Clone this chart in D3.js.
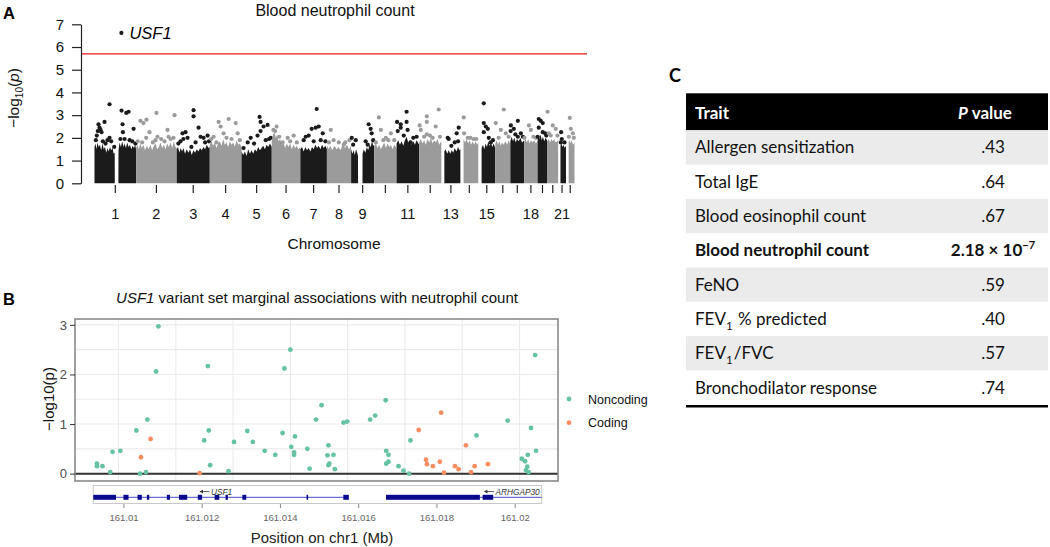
<!DOCTYPE html>
<html>
<head>
<meta charset="utf-8">
<script src="https://cdn.jsdelivr.net/npm/d3@7"></script>
<style>
  body { margin: 0; background: #fff; }
  svg { display: block; }
</style>
</head>
<body>
<svg id="fig" width="1050" height="547"></svg>
<script>
// ---------------- Panel A data (Manhattan plot) ----------------
const chrNames = ['1','2','3','4','5','6','7','8','9','10','11','12','13','14','15','16','17','18','19','20','21','22']
const chrShownLabels = ['1','2','3','4','5','6','7','8','9','11','13','15','18','21']
const chrLengths = [249, 243, 198, 190, 181, 171, 159, 145, 138, 134, 135, 133, 114, 107, 102, 90, 83, 80, 59, 64, 47, 51]
const yTicksA = [0, 1, 2, 3, 4, 5, 6, 7]
const sigThreshold = 5.7

// upper edge of the dense mass of SNPs, [Mb, -log10 p]
const massTop = [
  [[0,1.6],[6,1.75],[12,1.5],[18,1.8],[25,1.6],[32,1.7],[40,1.45],[48,1.75],[55,1.5],[63,1.6],[70,1.35],[78,1.55],[85,1.4],[93,1.6],[100,1.45],[108,1.55],[115,1.3],[121,1.35],[121.5,0],[143,0],[143.5,1.45],[150,1.8],[158,1.6],[166,1.85],[173,1.6],[180,1.75],[188,1.55],[196,1.8],[204,1.6],[212,1.7],[220,1.5],[228,1.65],[236,1.55],[243,1.7],[249,1.5]],
  [[0,1.55],[8,1.7],[16,1.5],[25,1.75],[34,1.55],[44,1.7],[54,1.45],[64,1.65],[75,1.5],[86,1.7],[96,1.45],[106,1.65],[116,1.75],[126,1.5],[136,1.6],[146,1.8],[156,1.55],[166,1.7],[176,1.5],[186,1.75],[196,1.6],[206,1.8],[216,1.55],[226,1.85],[235,1.6],[243,1.55]],
  [[0,1.5],[8,1.6],[16,1.35],[24,1.55],[32,1.4],[40,1.55],[50,1.3],[60,1.5],[70,1.35],[80,1.5],[90,1.25],[100,1.45],[110,1.35],[120,1.5],[130,1.4],[140,1.55],[150,1.45],[160,1.6],[170,1.5],[180,1.7],[190,1.55],[198,1.6]],
  [[0,1.7],[10,1.85],[20,1.65],[30,1.8],[40,1.55],[50,1.75],[60,1.85],[70,1.65],[80,1.95],[90,1.7],[100,1.8],[110,1.6],[120,1.85],[130,1.7],[140,1.8],[150,1.6],[160,1.9],[170,1.7],[180,1.75],[190,1.6]],
  [[0,1.4],[10,1.25],[20,1.4],[30,1.2],[40,1.5],[50,1.3],[60,1.45],[70,1.3],[80,1.5],[90,1.4],[100,1.6],[110,1.45],[120,1.55],[130,1.65],[140,1.5],[150,1.7],[160,1.6],[170,1.75],[181,1.6]],
  [[0,1.9],[8,2.15],[16,2.25],[24,2.0],[32,2.15],[40,1.85],[50,1.95],[60,1.7],[70,1.8],[80,1.55],[90,1.75],[100,1.6],[110,1.75],[120,1.5],[130,1.7],[140,1.55],[150,1.65],[160,1.5],[171,1.6]],
  [[0,1.5],[10,1.6],[20,1.4],[30,1.6],[40,1.45],[50,1.55],[60,1.4],[70,1.6],[80,1.5],[90,1.7],[100,1.55],[110,1.65],[120,1.5],[130,1.7],[140,1.55],[150,1.65],[159,1.5]],
  [[0,1.7],[10,1.5],[20,1.65],[32,1.45],[45,1.65],[58,1.5],[70,1.6],[82,1.45],[95,1.75],[108,1.55],[120,1.7],[132,1.5],[145,1.65]],
  [[0,1.5],[8,1.3],[15,1.45],[22,1.25],[30,1.5],[38,1.3],[41,1.2],[41.5,0],[68,0],[68.5,1.3],[76,1.5],[85,1.35],[94,1.6],[102,1.45],[110,1.7],[118,1.6],[125,1.9],[132,1.65],[138,1.7]],
  [[0,1.6],[10,1.75],[20,1.55],[30,1.7],[40,1.5],[50,1.65],[60,1.8],[70,1.55],[80,1.75],[90,1.6],[100,1.7],[110,1.5],[120,1.7],[134,1.55]],
  [[0,1.75],[10,1.9],[20,1.7],[30,1.85],[40,1.65],[50,1.9],[60,2.05],[70,1.8],[80,1.9],[90,1.7],[100,1.85],[110,1.7],[120,1.9],[135,1.7]],
  [[0,1.8],[10,1.95],[20,1.75],[30,1.9],[40,1.7],[50,1.95],[60,1.8],[70,2.0],[80,1.75],[90,1.9],[100,1.8],[110,1.95],[120,1.7],[133,1.85]],
  [[18,1.4],[26,1.5],[35,1.3],[44,1.45],[53,1.3],[62,1.45],[71,1.35],[80,1.55],[90,1.4],[100,1.6],[108,1.45],[114,1.5]],
  [[19,1.95],[28,1.8],[37,1.95],[46,1.75],[55,1.9],[64,1.7],[73,1.85],[82,1.7],[91,1.85],[100,1.7],[107,1.8]],
  [[20,1.55],[28,1.7],[36,1.5],[44,1.75],[52,1.6],[60,1.85],[68,1.65],[76,1.8],[84,1.6],[92,1.75],[102,1.55]],
  [[0,1.75],[8,1.9],[16,1.7],[24,1.85],[32,1.65],[40,1.8],[50,1.7],[60,1.85],[70,1.7],[80,1.9],[90,1.7]],
  [[0,1.85],[8,2.05],[16,1.85],[24,2.0],[32,1.8],[40,1.95],[50,1.85],[60,2.0],[70,1.8],[83,1.9]],
  [[0,1.8],[8,1.95],[16,1.8],[24,1.95],[32,1.75],[40,1.9],[50,1.8],[60,1.9],[70,1.75],[80,1.85]],
  [[0,1.9],[6,2.1],[12,1.95],[18,2.15],[25,1.9],[32,2.05],[40,1.85],[48,2.0],[59,1.85]],
  [[0,1.85],[8,1.95],[16,1.8],[24,1.95],[32,1.85],[40,1.95],[50,1.8],[64,1.9]],
  [[14,1.65],[20,1.75],[26,1.6],[32,1.7],[40,1.55],[47,1.65]],
  [[16,1.8],[22,1.9],[28,1.75],[34,1.9],[42,1.7],[51,1.8]]
]

// scattered SNPs above the dense mass, [Mb, -log10 p]
const topHits = [
  [[24,2.6],[30,2.45],[36,2.35],[42,2.25],[60,2.7],[90,3.48],[90,2.0],[78,1.9],[162,3.2],[190,3.1],[204,3.15],[168,2.6],[170,2.25],[180,1.95],[234,2.4],[20,2.3],[14,2.1],[100,1.85],[155,1.95],[210,1.9],[8,1.9],[50,1.85],[66,1.75],[118,1.6],[226,1.85],[245,1.75]],
  [[26,2.75],[44,2.65],[62,2.8],[122,3.1],[230,3.0],[80,2.25],[128,2.05],[116,1.9],[188,2.35],[194,2.05],[224,2.0],[150,1.95],[60,2.0],[10,1.85],[36,1.8],[100,1.8],[170,1.85],[206,1.95]],
  [[101,3.22],[101,2.95],[131,2.45],[35,2.2],[53,2.25],[65,2.0],[23,1.85],[143,2.05],[161,2.0],[185,2.1],[113,1.8],[40,1.95],[10,1.75],[88,1.6],[170,1.8],[193,1.85]],
  [[53,2.7],[113,2.83],[155,2.65],[65,2.5],[83,2.2],[23,2.05],[167,2.2],[100,2.0],[8,1.95],[40,1.8],[130,1.95],[180,1.9]],
  [[108,2.92],[114,2.7],[156,2.57],[132,2.5],[55,2.0],[96,2.1],[37,1.8],[114,2.3],[75,1.75],[145,1.9],[12,1.55],[165,1.95],[175,2.0]],
  [[29,2.5],[95,2.0],[131,2.1],[65,1.8],[20,2.3],[10,2.35],[45,2.05],[110,1.85],[150,1.8]],
  [[98,3.27],[68,2.4],[92,2.45],[110,2.5],[32,2.05],[50,2.1],[134,2.2],[20,1.9],[80,1.85],[122,1.9],[150,1.85]],
  [[23,2.35],[71,1.8],[101,1.7],[40,1.9],[12,1.8],[110,1.8],[135,1.9]],
  [[4,2.0],[28,1.9],[105,2.6],[117,2.4],[123,2.2],[87,1.85],[99,1.7],[12,1.7],[132,1.9]],
  [[28,2.9],[40,2.35],[70,2.0],[100,2.2],[10,1.8],[55,1.9],[85,1.9],[120,1.9]],
  [[60,3.15],[3,2.7],[25,2.6],[25,2.45],[60,2.7],[7,2.3],[66,2.35],[43,2.1],[84,1.8],[100,2.0],[120,2.05]],
  [[117,3.25],[46,2.95],[46,2.7],[3,2.55],[99,2.5],[10,2.35],[46,2.15],[81,2.0],[30,2.05],[65,2.1],[125,2.05]],
  [[104,2.45],[92,2.2],[38,2.0],[44,1.95],[80,1.8],[60,1.65],[100,1.85]],
  [[20,2.9],[22,2.2],[44,2.0],[80,1.95],[60,2.0],[95,1.95]],
  [[33,3.52],[33,2.65],[45,2.5],[57,2.4],[33,2.25],[63,2.0],[75,1.8],[88,1.9]],
  [[51,3.25],[3,2.65],[33,2.35],[63,2.2],[20,2.0],[80,2.05]],
  [[45,2.75],[3,2.55],[21,2.4],[63,2.2],[45,2.05],[2,2.3],[30,2.15],[75,2.05]],
  [[28,2.55],[40,2.35],[2,2.0],[55,2.05],[70,2.0]],
  [[7,2.83],[19,2.75],[31,2.65],[7,2.45],[31,2.25],[1,2.05],[45,2.2],[52,2.1]],
  [[1,3.15],[32,2.55],[50,2.4],[8,2.2],[20,2.1],[60,2.1]],
  [[18,2.25],[22,1.95],[16,1.8],[38,1.8]],
  [[23,2.88],[29,2.4],[41,2.2],[17,2.05],[47,2.0]]
]

const leadHit = { chr: '1', pos: 161.01, logp: 6.62, gene: 'USF1' }

// ---------------- Panel B data (variant set) ----------------
const noncodingPos = [161.01087,161.01082,161.01195,161.01063,161.01039,161.01187,161.01197,161.01252,161.00987,161.01004,
  161.00953,161.00953,161.00965,161.00982,161.01047,161.01060,161.01200,161.01240,161.01375,161.01362,
  161.01443,161.01431,161.01491,161.01499,161.01549,161.01560,161.01583,161.01281,161.01293,161.01358,
  161.01385,161.01377,161.01383,161.01383,161.01319,161.01342,161.01412,161.01417,161.01458,161.01456,
  161.01469,161.01460,161.01458,161.01472,161.01584,161.01589,161.01589,161.01584,161.01611,161.01909,
  161.01849,161.01900,161.01637,161.01781,161.01911,161.01622,161.01634,161.01880,161.01887,161.01893,
  161.01892,161.01889,161.01895]
const noncodingLogP = [2.97,2.06,2.17,1.09,0.87,0.67,0.87,0.64,0.44,0.46,
  0.20,0.15,0.15,0.03,0.00,0.03,0.17,0.05,2.50,2.12,
  1.38,1.09,1.03,1.05,1.09,1.17,1.48,0.86,0.64,0.82,
  0.75,0.54,0.43,0.38,0.46,0.38,0.50,0.10,0.57,0.37,
  0.38,0.20,0.17,0.09,0.46,0.38,0.24,0.20,0.15,2.39,
  1.07,0.92,0.67,0.77,0.46,0.06,0.00,0.30,0.25,0.38,
  0.14,0.07,0.03]
const codingPos = [161.01070,161.01049,161.01177,161.01704,161.01655,161.01758,161.01671,161.01673,
  161.01686,161.01701,161.01710,161.01734,161.01742,161.01769,161.01777,161.01806]
const codingLogP = [0.70,0.33,0.01,1.23,0.88,0.57,0.28,0.19,
  0.15,0.24,0.02,0.15,0.09,0.03,0.15,0.19]
const variantGridX = [161.01, 161.01125, 161.0125, 161.01375, 161.015, 161.01625, 161.0175, 161.01875]
const variantGridY = [0, 0.5, 1, 1.5, 2, 2.5, 3]
const variantTicksY = [0, 1, 2, 3]
const legendLabels = ['Noncoding', 'Coding']

// gene track
const trackRange = [161.00923, 161.02069]
const trackTicks = [161.010, 161.012, 161.014, 161.016, 161.018, 161.020]
const genes = [
  { name: 'USF1', start: 161.00923, end: 161.01576, labelEnd: 161.01278,
    exons: [[161.00923,161.00981],[161.01000,161.01013],[161.01036,161.01047],[161.01060,161.01066],[161.01111,161.01119],
            [161.01142,161.01163],[161.01190,161.01201],[161.01233,161.01245],[161.01261,161.01267],[161.01304,161.01314],
            [161.01468,161.01472],[161.01562,161.01576]] },
  { name: 'ARHGAP30', start: 161.01671, end: 161.02069, labelEnd: 161.02064,
    exons: [[161.01671,161.01911],[161.01918,161.01945]] }
]

// ---------------- Panel C data (table) ----------------
const traits = ['Allergen sensitization', 'Total IgE', 'Blood eosinophil count', 'Blood neutrophil count',
  'FeNO', 'FEV_{1} % predicted', 'FEV_{1}/FVC', 'Bronchodilator response']
const pValues = ['.43', '.64', '.67', '2.18 × 10^{−7}', '.59', '.40', '.57', '.74']
const boldTrait = 'Blood neutrophil count'

// Global constants
const sansR = '"Liberation Sans", Arial, sans-serif'
const sansC = 'Lato, "Open Sans", sans-serif'
const darkCol = '#1b1b1b'
const greyCol = '#9b9b9b'
const greenCol = '#66c2a5'
const orangeCol = '#fc8d62'

const svg = d3.select('#fig')

// Writes a string with _{sub} and ^{sup} markup into a text element
function richText(sel, str, size) {
    const parts = str.split(/(_\{[^}]*\}|\^\{[^}]*\})/).filter(s => s.length)
    parts.forEach(p => {
        if (p.startsWith('_{')) {
            sel.append('tspan').attr('font-size', size * 0.68).attr('dy', size * 0.28).text(p.slice(2, -1))
            sel.append('tspan').attr('dy', -size * 0.28).text('\u200a')
        } else if (p.startsWith('^{')) {
            sel.append('tspan').attr('font-size', size * 0.65).attr('dy', -size * 0.42).text(p.slice(2, -1))
        } else {
            sel.append('tspan').text(p)
        }
    })
}

// ================= Panel A =================
function plotManhattan() {
    const g = svg.append('g')
    const cumStart = []
    let acc = 0
    chrLengths.forEach(l => { cumStart.push(acc); acc += l })

    const xA = d3.scaleLinear().domain([0, acc]).range([94.5, 574.5])
    const yA = d3.scaleLinear().domain([0, 7]).range([183.3, 24.3])

    // chromosome blocks
    chrNames.forEach((c, i) => {
        const col = i % 2 === 0 ? darkCol : greyCol
        const area = d3.area()
            .x(d => xA(cumStart[i] + d[0]))
            .y0(yA(0))
            .y1(d => yA(d[1]))
        g.append('path')
            .attr('d', area(massTop[i]))
            .attr('fill', col)
        g.selectAll(null)
            .data(topHits[i])
            .enter()
            .append('circle')
            .attr('cx', d => xA(cumStart[i] + d[0]))
            .attr('cy', d => yA(d[1]))
            .attr('r', 2.1)
            .attr('fill', col)
    })

    // significance line
    g.append('line')
        .attr('x1', 81).attr('x2', 587)
        .attr('y1', yA(sigThreshold)).attr('y2', yA(sigThreshold))
        .attr('stroke', '#f01818').attr('stroke-width', 1.4)

    // lead hit
    const ci = chrNames.indexOf(leadHit.chr)
    const lx = xA(cumStart[ci] + leadHit.pos)
    g.append('circle').attr('cx', lx).attr('cy', yA(leadHit.logp)).attr('r', 2.1).attr('fill', darkCol)
    g.append('text')
        .attr('x', lx + 8).attr('y', yA(leadHit.logp) + 6)
        .attr('font-family', sansR).attr('font-size', 16.5).attr('font-style', 'italic')
        .text(leadHit.gene)

    // y axis
    const yAxis = g.append('g')
        .attr('transform', 'translate(81,0)')
        .call(d3.axisLeft(yA).tickValues(yTicksA).tickSize(9).tickSizeOuter(0).tickPadding(8).tickFormat(d3.format('d')))
    yAxis.attr('font-family', sansR).attr('font-size', 15)
    yAxis.selectAll('path, line').attr('stroke', '#222').attr('stroke-width', 1.2)
    yAxis.selectAll('text').attr('fill', '#111')

    // x ticks at chromosome centres
    chrNames.forEach((c, i) => {
        const cx = xA(cumStart[i] + chrLengths[i] / 2)
        g.append('line').attr('x1', cx).attr('x2', cx).attr('y1', 185).attr('y2', 193)
            .attr('stroke', '#222').attr('stroke-width', 1.2)
        if (chrShownLabels.includes(c)) {
            g.append('text').attr('x', cx).attr('y', 218.5)
                .attr('text-anchor', 'middle').attr('font-family', sansR).attr('font-size', 14.5)
                .attr('fill', '#111').text(c)
        }
    })

    // titles
    g.append('text').attr('x', 335).attr('y', 16).attr('text-anchor', 'middle')
        .attr('font-family', sansR).attr('font-size', 16).attr('fill', '#111').text('Blood neutrophil count')
    g.append('text').attr('x', 334).attr('y', 249).attr('text-anchor', 'middle')
        .attr('font-family', sansR).attr('font-size', 15.5).attr('fill', '#111').text('Chromosome')

    const yl = g.append('text')
        .attr('transform', 'translate(19,98) rotate(-90)')
        .attr('text-anchor', 'middle').attr('font-family', sansR).attr('font-size', 15.5).attr('fill', '#111')
    yl.append('tspan').text('\u2212log')
    yl.append('tspan').attr('font-size', 10).attr('dy', 4).text('10')
    yl.append('tspan').attr('dy', -4).text('(')
    yl.append('tspan').attr('font-style', 'italic').text('p')
    yl.append('tspan').text(')')

    g.append('text').attr('x', 3).attr('y', 18.5).attr('font-family', sansR)
        .attr('font-size', 16.5).attr('font-weight', 'bold').text('A')
}

// ================= Panel B =================
function plotVariants() {
    const g = svg.append('g')
    const left = 75, right = 558, top = 319, bottom = 481

    const allPos = noncodingPos.concat(codingPos)
    const ext = d3.extent(allPos)
    const padX = (ext[1] - ext[0]) * 0.05
    const xB = d3.scaleLinear().domain([ext[0] - padX, ext[1] + padX]).range([left, right])
    const maxY = d3.max(noncodingLogP.concat(codingLogP))
    const yB = d3.scaleLinear().domain([-maxY * 0.05, maxY * 1.05]).range([bottom, top])

    // grid
    g.selectAll(null).data(variantGridX).enter().append('line')
        .attr('x1', d => xB(d)).attr('x2', d => xB(d)).attr('y1', top).attr('y2', bottom)
        .attr('stroke', '#ebebeb').attr('stroke-width', 1.1)
    g.selectAll(null).data(variantGridY).enter().append('line')
        .attr('x1', left).attr('x2', right).attr('y1', d => yB(d)).attr('y2', d => yB(d))
        .attr('stroke', '#ebebeb').attr('stroke-width', 1.1)

    // zero line
    g.append('line').attr('x1', left).attr('x2', right).attr('y1', yB(0)).attr('y2', yB(0))
        .attr('stroke', '#333').attr('stroke-width', 2)

    // points
    const drawSet = (pos, vals, col) => {
        g.selectAll(null).data(pos).enter().append('circle')
            .attr('cx', d => xB(d)).attr('cy', (d, i) => yB(vals[i]))
            .attr('r', 2.4).attr('fill', col)
    }
    drawSet(noncodingPos, noncodingLogP, greenCol)
    drawSet(codingPos, codingLogP, orangeCol)

    // border
    g.append('rect').attr('x', left).attr('y', top).attr('width', right - left).attr('height', bottom - top)
        .attr('fill', 'none').attr('stroke', '#8a8a8a').attr('stroke-width', 1.6)

    // y axis
    const yAxis = g.append('g').attr('transform', `translate(${left},0)`)
        .call(d3.axisLeft(yB).tickValues(variantTicksY).tickSize(5).tickPadding(3).tickFormat(d3.format('d')))
    yAxis.select('.domain').remove()
    yAxis.attr('font-family', sansR).attr('font-size', 13)
    yAxis.selectAll('line').attr('stroke', '#333')
    yAxis.selectAll('text').attr('fill', '#4d4d4d')

    g.append('text').attr('transform', 'translate(54,399) rotate(-90)')
        .attr('text-anchor', 'middle').attr('font-family', sansR).attr('font-size', 15).attr('fill', '#111')
        .text('\u2212log10(p)')

    // title
    const t = g.append('text').attr('x', 317).attr('y', 303).attr('text-anchor', 'middle')
        .attr('font-family', sansR).attr('font-size', 15).attr('fill', '#111')
    t.append('tspan').attr('font-style', 'italic').text('USF1')
    t.append('tspan').text(' variant set marginal associations with neutrophil count')

    // legend
    const legCols = [greenCol, orangeCol]
    legendLabels.forEach((lab, i) => {
        const ly = 399 + i * 23.7
        g.append('circle').attr('cx', 569).attr('cy', ly).attr('r', 2.4).attr('fill', legCols[i])
        g.append('text').attr('x', 588).attr('y', ly + 4.5).attr('font-family', sansR)
            .attr('font-size', 12.5).attr('fill', '#111').text(lab)
    })

    // gene track
    const xT = d3.scaleLinear().domain(trackRange).range([93.3, 541.7])
    g.append('rect').attr('x', 93.3).attr('y', 485.5).attr('width', 448.4).attr('height', 18)
        .attr('fill', '#fff').attr('stroke', '#c8c8c8').attr('stroke-width', 1)
    genes.forEach(gene => {
        g.append('line').attr('x1', xT(gene.start)).attr('x2', xT(gene.end))
            .attr('y1', 497.3).attr('y2', 497.3).attr('stroke', '#4a4ac8').attr('stroke-width', 1)
        g.selectAll(null).data(gene.exons).enter().append('rect')
            .attr('x', d => xT(d[0])).attr('width', d => Math.max(1.2, xT(d[1]) - xT(d[0])))
            .attr('y', 494.8).attr('height', 5).attr('fill', '#0a0a8c')
        const lt = g.append('text').attr('x', xT(gene.labelEnd)).attr('y', 494.5)
            .attr('text-anchor', 'end').attr('font-family', sansR).attr('font-size', 8.3)
            .attr('font-style', 'italic').attr('fill', '#333').text(gene.name)
        const w = lt.node().getComputedTextLength()
        const ax = xT(gene.labelEnd) - w - 1.5
        g.append('line').attr('x1', ax - 9).attr('x2', ax).attr('y1', 491.6).attr('y2', 491.6)
            .attr('stroke', '#333').attr('stroke-width', 0.8)
        g.append('path').attr('d', `M${ax - 10},491.6 l3.5,-1.8 v3.6 z`).attr('fill', '#333')
    })
    const tAxis = g.append('g').attr('transform', 'translate(0,504)')
        .call(d3.axisBottom(xT).tickValues(trackTicks).tickSize(4).tickPadding(6).tickFormat(d3.format('.3~f')))
    tAxis.select('.domain').remove()
    tAxis.attr('font-family', sansR).attr('font-size', 9.5)
    tAxis.selectAll('line').attr('stroke', '#888')
    tAxis.selectAll('text').attr('fill', '#666')

    g.append('text').attr('x', 322).attr('y', 543).attr('text-anchor', 'middle')
        .attr('font-family', sansR).attr('font-size', 15).attr('fill', '#222').text('Position on chr1 (Mb)')

    g.append('text').attr('x', 3).attr('y', 305).attr('font-family', sansR)
        .attr('font-size', 16.5).attr('font-weight', 'bold').text('B')
}

// ================= Panel C =================
function drawTable() {
    const g = svg.append('g')
    const left = 686, right = 1048, headTop = 93.3, rowTop = 130.3, rowH = 34.3
    const fs = 17
    const rowY = d3.scaleBand().domain(d3.range(traits.length)).range([rowTop, rowTop + rowH * traits.length])

    g.append('rect').attr('x', left).attr('y', headTop).attr('width', right - left)
        .attr('height', rowTop - headTop).attr('fill', '#000')
    g.append('text').attr('x', 695).attr('y', 118.5).attr('font-family', sansC).attr('font-size', fs)
        .attr('font-weight', 'bold').attr('fill', '#fff').text('Trait')
    const ph = g.append('text').attr('x', 985).attr('y', 118.5).attr('text-anchor', 'middle')
        .attr('font-family', sansC).attr('font-size', fs).attr('font-weight', 'bold').attr('fill', '#fff')
    ph.append('tspan').attr('font-style', 'italic').text('P')
    ph.append('tspan').text(' value')

    traits.forEach((tr, i) => {
        const y0 = rowY(i)
        if (i % 2 === 0) {
            g.append('rect').attr('x', left).attr('y', y0).attr('width', right - left)
                .attr('height', rowY.bandwidth()).attr('fill', '#ebebeb')
        }
        const bold = tr === boldTrait ? 'bold' : 'normal'
        const tt = g.append('text').attr('x', 695).attr('y', y0 + rowH / 2 + 6)
            .attr('font-family', sansC).attr('font-size', fs).attr('font-weight', bold).attr('fill', '#111')
        richText(tt, tr, fs)
        const pv = g.append('text').attr('x', 993).attr('y', y0 + rowH / 2 + 6).attr('text-anchor', 'middle')
            .attr('font-family', sansC).attr('font-size', fs).attr('font-weight', bold).attr('fill', '#111')
        richText(pv, pValues[i], fs)
    })

    g.append('line').attr('x1', left).attr('x2', right)
        .attr('y1', rowTop + rowH * traits.length + 1.5).attr('y2', rowTop + rowH * traits.length + 1.5)
        .attr('stroke', '#000').attr('stroke-width', 2.5)

    g.append('text').attr('x', 669).attr('y', 82).attr('font-family', sansC)
        .attr('font-size', 18).attr('font-weight', 'bold').text('C')
}

plotManhattan()
plotVariants()
drawTable()
</script>
</body>
</html>
